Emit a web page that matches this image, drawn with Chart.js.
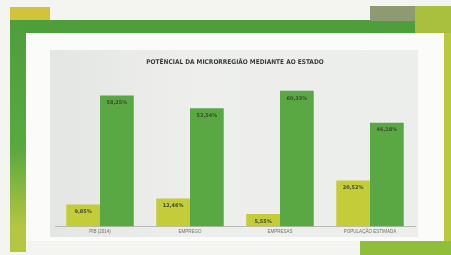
<!DOCTYPE html>
<html>
<head>
<meta charset="utf-8">
<script src="https://cdn.jsdelivr.net/npm/chart.js@4.4.0/dist/chart.umd.min.js"></script>
<style>
  html, body { margin: 0; padding: 0; }
  body { width: 451px; height: 255px; background: #f4f5f0; position: relative; overflow: hidden; }
  .deco { position: absolute; }
  #panel { position: absolute; left: 50px; top: 50px; width: 368px; height: 187px;
    background: linear-gradient(90deg, #e4e6e3 0%, #eeefed 40%, #eceeeb 100%); }
</style>
</head>
<body>
<!-- slide decorations -->
<div class="deco" style="left:10px;top:7px;width:40px;height:14px;background:#cfc43a;"></div>
<div class="deco" style="left:10px;top:20px;width:420px;height:13px;background:#4f9e3c;"></div>
<div class="deco" style="left:370px;top:6px;width:50px;height:15px;background:#8e9a72;"></div>
<div class="deco" style="left:415px;top:6px;width:36px;height:30px;background:#a9bf3e;"></div>
<div class="deco" style="left:10px;top:20px;width:16px;height:232px;background:linear-gradient(180deg,#4f9e3c 0%,#5aa83f 55%,#b6c640 90%);"></div>
<div class="deco" style="left:26px;top:33px;width:418px;height:208px;background:#fbfbf9;"></div>
<div class="deco" style="left:444px;top:33px;width:7px;height:222px;background:#b8c93f;"></div>
<div class="deco" style="left:360px;top:241px;width:91px;height:14px;background:#8fbf3a;"></div>
<div id="panel"><canvas id="my-chart" width="368" height="187"></canvas></div>

<script>
'use strict';

// ******* DATA *********
let chartTitle = 'POTÊNCIAL DA MICRORREGIÃO MEDIANTE AO ESTADO';
let categories = ['PIB (2014)', 'EMPREGO', 'EMPRESAS', 'POPULAÇÃO ESTIMADA'];
let microValues = [9.85, 12.46, 5.55, 20.52];
let estadoValues = [58.25, 52.54, 60.33, 46.18];

// ******* HELPERS *********
function formatPct(v) {
  return v.toFixed(2).replace('.', ',') + '%';
}

// draws the value inside the top of each bar
let barLabels = {
  id: 'barLabels',
  afterDatasetsDraw(chart) {
    let c = chart.ctx;
    c.save();
    c.font = 'bold 5px "DejaVu Sans", sans-serif';
    c.fillStyle = '#3d4a2e';
    c.textAlign = 'center';
    c.textBaseline = 'top';
    chart.data.datasets.forEach((ds, i) => {
      chart.getDatasetMeta(i).data.forEach((bar, j) => {
        c.fillText(formatPct(ds.data[j]), bar.x, bar.y + 5);
      });
    });
    c.restore();
  }
};

let ctx = document.getElementById('my-chart');

let chartObj = {
  type: 'bar',
  data: {
    labels: categories,
    datasets: [{
      label: 'Microrregião',
      data: microValues,
      backgroundColor: '#c5cc3a',
      borderWidth: 0
    },
    {
      label: 'Estado',
      data: estadoValues,
      backgroundColor: '#5aa844',
      borderWidth: 0
    }]
  },
  options: {
    responsive: false,
    animation: false,
    layout: { padding: { left: 5, right: 3, top: 6, bottom: 1 } },
    datasets: { bar: { barPercentage: 1, categoryPercentage: 0.75 } },
    plugins: {
      legend: { display: false },
      tooltip: { enabled: false },
      title: {
        display: true,
        text: chartTitle,
        color: '#3a3f3a',
        font: { family: '"DejaVu Sans Condensed", sans-serif', size: 6.5, weight: 'bold' },
        padding: { top: 2, bottom: 10 }
      }
    },
    scales: {
      x: {
        grid: { display: false, drawTicks: false },
        border: { color: '#b9bcb8', width: 1 },
        ticks: { color: '#6d706c', font: { size: 4.5 }, padding: 2 }
      },
      y: {
        display: false,
        min: 0,
        max: 67
      }
    }
  },
  plugins: [barLabels]
};

new Chart(ctx, chartObj); //eslint-disable-line
</script>
</body>
</html>
